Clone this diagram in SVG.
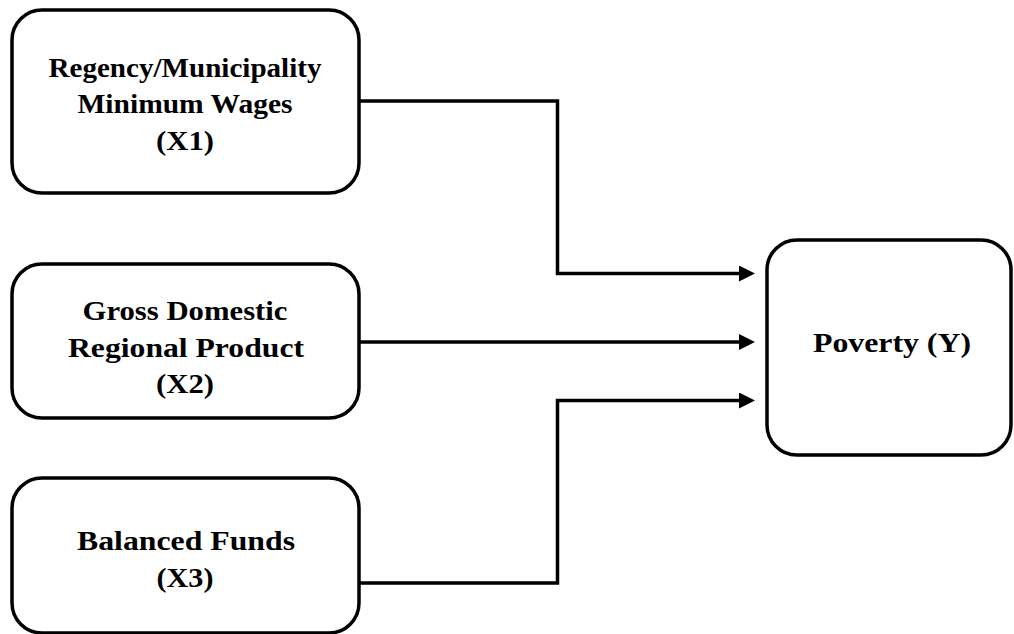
<svg xmlns="http://www.w3.org/2000/svg" width="1014" height="634" viewBox="0 0 1014 634">
  <style>
    .box { fill: #ffffff; stroke: #000000; stroke-width: 3.5; }
    .lbl { font-family: "Liberation Serif", "Times New Roman", serif; font-weight: bold; font-size: 28px; fill: #000000; text-anchor: middle; }
    .conn { fill: none; stroke: #000000; stroke-width: 3.5; stroke-linejoin: miter; }
  </style>
  <defs>
    <marker id="arrow" markerUnits="userSpaceOnUse" markerWidth="17" markerHeight="17" refX="5" refY="8" orient="auto">
      <path d="M0,0 L16,8 L0,16 Z" fill="#000000"/>
    </marker>
  </defs>
  <rect width="1014" height="634" fill="#ffffff"/>

  <g id="node-x1">
    <rect class="box" x="12" y="10" width="347" height="183" rx="30" ry="30"/>
    <text class="lbl" x="185" y="77" textLength="273" lengthAdjust="spacingAndGlyphs">Regency/Municipality</text>
    <text class="lbl" x="185" y="113" textLength="215" lengthAdjust="spacingAndGlyphs">Minimum Wages</text>
    <text class="lbl" x="185" y="150" textLength="58" lengthAdjust="spacingAndGlyphs">(X1)</text>
  </g>

  <g id="node-x2">
    <rect class="box" x="12" y="264" width="347" height="154" rx="30" ry="30"/>
    <text class="lbl" x="185" y="320" textLength="205" lengthAdjust="spacingAndGlyphs">Gross Domestic</text>
    <text class="lbl" x="186" y="357" textLength="236" lengthAdjust="spacingAndGlyphs">Regional Product</text>
    <text class="lbl" x="185" y="393" textLength="58" lengthAdjust="spacingAndGlyphs">(X2)</text>
  </g>

  <g id="node-x3">
    <rect class="box" x="12" y="478" width="347" height="155" rx="30" ry="30"/>
    <text class="lbl" x="186" y="550" textLength="218" lengthAdjust="spacingAndGlyphs">Balanced Funds</text>
    <text class="lbl" x="185" y="587" textLength="57" lengthAdjust="spacingAndGlyphs">(X3)</text>
  </g>

  <g id="node-y">
    <rect class="box" x="767" y="240" width="244" height="215" rx="30" ry="30"/>
    <text class="lbl" x="892" y="352" font-size="31" textLength="158" lengthAdjust="spacingAndGlyphs">Poverty (Y)</text>
  </g>

  <g id="connectors">
    <path class="conn" d="M359,101 H557.5 V273.5 H744" marker-end="url(#arrow)"/>
    <path class="conn" d="M359,342 H744" marker-end="url(#arrow)"/>
    <path class="conn" d="M359,583 H557.5 V400.5 H744" marker-end="url(#arrow)"/>
  </g>
</svg>
